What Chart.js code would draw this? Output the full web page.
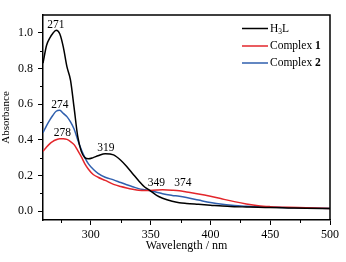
<!DOCTYPE html>
<html>
<head>
<meta charset="utf-8">
<script src="https://cdn.jsdelivr.net/npm/chart.js@4"></script>
<style>
  html, body { margin: 0; padding: 0; background: #fff; }
  canvas { display: block; }
</style>
</head>
<body>
<canvas id="chart" width="346" height="262"></canvas>
<script>
// UV-vis spectra
const wavelengths = [260, 263, 266, 268, 271, 274, 277, 280, 283, 286, 289, 292, 295, 298, 302, 306, 312, 319, 325, 330,
  335, 340, 345, 349, 355, 360, 368, 374, 380, 390, 400, 410, 420, 430, 440, 450, 465, 480, 500];
const h3lAbs = [0.83, 0.93, 0.975, 0.995, 1.015, 0.995, 0.92, 0.81, 0.735, 0.58, 0.42, 0.335, 0.30, 0.293, 0.30, 0.31, 0.322, 0.315, 0.285, 0.25,
  0.21, 0.17, 0.135, 0.118, 0.088, 0.072, 0.055, 0.047, 0.043, 0.038, 0.033, 0.028, 0.025, 0.023, 0.021, 0.02, 0.018, 0.016, 0.014];
const complex1Abs = [0.335, 0.36, 0.38, 0.39, 0.40, 0.406, 0.406, 0.402, 0.39, 0.373, 0.34, 0.305, 0.265, 0.235, 0.205, 0.19, 0.172, 0.15, 0.138, 0.13,
  0.123, 0.117, 0.115, 0.116, 0.118, 0.119, 0.117, 0.114, 0.107, 0.096, 0.083, 0.068, 0.053, 0.04, 0.03, 0.025, 0.021, 0.019, 0.015];
const complex2Abs = [0.44, 0.48, 0.515, 0.535, 0.56, 0.565, 0.548, 0.53, 0.50, 0.46, 0.40, 0.345, 0.30, 0.265, 0.235, 0.212, 0.19, 0.175, 0.16, 0.148,
  0.137, 0.126, 0.12, 0.116, 0.106, 0.097, 0.088, 0.083, 0.076, 0.062, 0.048, 0.038, 0.032, 0.027, 0.024, 0.022, 0.019, 0.017, 0.015];

const xTicks = [300, 350, 400, 450, 500];
const xMinorTicks = [275, 325, 375, 425, 475];
const yTicks = [0, 0.2, 0.4, 0.6, 0.8, 1.0];
const yMinorTicks = [0.1, 0.3, 0.5, 0.7, 0.9];

// peak labels, placed in data coordinates
const peakText = ['271', '274', '278', '319', '349', '374'];
const peakX = [270.7, 274.2, 276.3, 312.5, 354.8, 377];
const peakY = [1.046, 0.597, 0.438, 0.352, 0.157, 0.157];

const SERIF = '"Liberation Serif", "DejaVu Serif", serif';
const RED = '#e3262b';
const BLUE = '#2f5fae';

const toPoints = ys => wavelengths.map((x, i) => ({ x, y: ys[i] }));

const extras = {
  id: 'extras',
  afterDraw(chart) {
    const { ctx, chartArea: a, scales: { x, y } } = chart;
    ctx.save();
    ctx.strokeStyle = '#000';

    // minor ticks
    ctx.lineWidth = 1;
    ctx.beginPath();
    xMinorTicks.forEach(v => {
      const px = Math.round(x.getPixelForValue(v)) + 0.5;
      ctx.moveTo(px, a.bottom);
      ctx.lineTo(px, a.bottom + 3);
    });
    yMinorTicks.forEach(v => {
      const py = Math.round(y.getPixelForValue(v)) + 0.5;
      ctx.moveTo(a.left, py);
      ctx.lineTo(a.left - 3, py);
    });
    ctx.stroke();

    // top and right frame
    ctx.lineWidth = 1.5;
    ctx.beginPath();
    ctx.moveTo(a.left, a.top);
    ctx.lineTo(a.right, a.top);
    ctx.lineTo(a.right, a.bottom);
    ctx.stroke();

    // peak labels
    ctx.fillStyle = '#000';
    ctx.font = '11.5px ' + SERIF;
    ctx.textAlign = 'center';
    ctx.textBaseline = 'middle';
    peakText.forEach((t, i) => {
      ctx.fillText(t, x.getPixelForValue(peakX[i]), y.getPixelForValue(peakY[i]));
    });

    // legend
    const lx0 = 242, lx1 = 268, tx = 270;
    const rows = [28.5, 46, 63];
    chart.data.datasets.forEach((ds, i) => {
      const ry = rows[i];
      ctx.strokeStyle = ds.borderColor;
      ctx.lineWidth = 1.5;
      ctx.beginPath();
      ctx.moveTo(lx0, ry);
      ctx.lineTo(lx1, ry);
      ctx.stroke();
      ctx.textAlign = 'left';
      ctx.textBaseline = 'middle';
      ctx.fillStyle = '#000';
      if (i === 0) {
        ctx.font = '11.5px ' + SERIF;
        ctx.fillText('H', tx, ry);
        let w = ctx.measureText('H').width;
        ctx.font = '7.5px ' + SERIF;
        ctx.fillText('3', tx + w, ry + 4);
        w += ctx.measureText('3').width;
        ctx.font = '11.5px ' + SERIF;
        ctx.fillText('L', tx + w, ry);
      } else {
        ctx.font = '11.5px ' + SERIF;
        ctx.fillText('Complex ', tx, ry);
        const w = ctx.measureText('Complex ').width;
        ctx.font = 'bold 11.5px ' + SERIF;
        ctx.fillText(String(i), tx + w, ry);
      }
    });
    ctx.restore();
  }
};

new Chart(document.getElementById('chart'), {
  type: 'line',
  data: {
    datasets: [
      { label: 'H₃L', data: toPoints(h3lAbs), borderColor: '#000' },
      { label: 'Complex 1', data: toPoints(complex1Abs), borderColor: RED },
      { label: 'Complex 2', data: toPoints(complex2Abs), borderColor: BLUE },
    ],
  },
  options: {
    responsive: false,
    animation: false,
    devicePixelRatio: 1,
    layout: { padding: { top: 15, right: 16, left: 0, bottom: 0 } },
    elements: {
      point: { radius: 0 },
      line: { borderWidth: 1.5, tension: 0.4, cubicInterpolationMode: 'monotone' },
    },
    plugins: { legend: { display: false }, tooltip: { enabled: false } },
    scales: {
      x: {
        type: 'linear',
        min: 260,
        max: 500,
        afterBuildTicks: s => { s.ticks = xTicks.map(value => ({ value })); },
        afterFit: s => { s.height = 42; },
        ticks: { color: '#000', font: { family: SERIF, size: 12 }, padding: 3, maxRotation: 0 },
        grid: { drawOnChartArea: false, tickLength: 5, tickColor: '#000', tickWidth: 1 },
        border: { color: '#000', width: 1.5 },
        title: { display: true, text: 'Wavelength / nm', color: '#000', font: { family: SERIF, size: 12 }, padding: { top: 0, bottom: 9 } },
      },
      y: {
        min: -0.05,
        max: 1.1,
        afterBuildTicks: s => { s.ticks = yTicks.map(value => ({ value })); },
        afterFit: s => { s.width = 43; },
        ticks: { color: '#000', font: { family: SERIF, size: 12 }, padding: 5, callback: v => v.toFixed(1) },
        grid: { drawOnChartArea: false, tickLength: 5, tickColor: '#000', tickWidth: 1 },
        border: { color: '#000', width: 1.5 },
        title: { display: true, text: 'Absorbance', color: '#000', font: { family: SERIF, size: 11 }, padding: { top: 0, bottom: 0 } },
      },
    },
  },
  plugins: [extras],
});
</script>
</body>
</html>
